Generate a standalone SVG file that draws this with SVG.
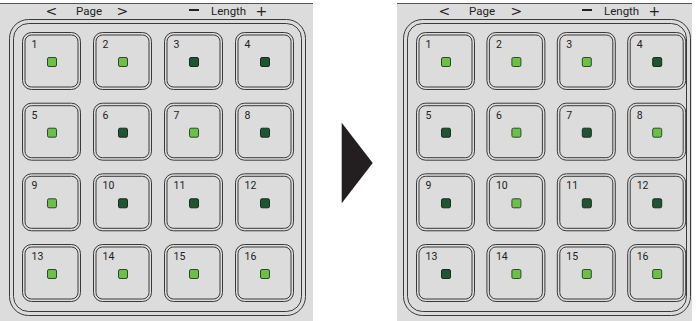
<svg xmlns="http://www.w3.org/2000/svg" xmlns:xlink="http://www.w3.org/1999/xlink" width="696" height="321" viewBox="0 0 696 321">
<style>
.bg{fill:#dcdcdc}
.top{stroke:#555;stroke-width:1}
.ln{fill:none;stroke:#3a3a3a;stroke-width:1}
.on{fill:#6cc04a;stroke:#2e4a26;stroke-width:1}
.off{fill:#1f5632;stroke:#1a2a1f;stroke-width:1}
.num{font-family:Roboto,"Liberation Sans",sans-serif;font-size:10.5px;fill:#222}
.hdr{font-family:Roboto,"Liberation Sans",sans-serif;font-size:11.5px;fill:#222}
.sym{font-family:"DejaVu Sans",sans-serif;font-size:14px;fill:#222}
</style>
<defs>
<g id="btn">
<rect class="ln" x="0.5" y="0.5" width="58" height="57" rx="9"/>
<rect class="ln" x="3" y="3" width="53" height="52" rx="6.5"/>
</g>
</defs>
<rect width="696" height="321" fill="#fff"/>
<g id="panel-before">
<rect class="bg" x="0" y="3" width="313" height="318"/>
<line class="top" x1="0" y1="3.5" x2="313" y2="3.5"/>
<text class="sym" x="45.5" y="16">&lt;</text>
<text class="hdr" x="76" y="14.5">Page</text>
<text class="sym" x="116.5" y="16">&gt;</text>
<rect x="189" y="9" width="10" height="2" fill="#222"/>
<text class="hdr" x="211" y="14.5">Length</text>
<text class="sym" x="255.5" y="16">+</text>
<rect class="ln" x="9.5" y="19.5" width="296" height="296" rx="19"/>
<rect class="ln" x="13.5" y="23.5" width="288" height="288" rx="15"/>
</g>
<g id="L1" transform="translate(22,32)"><use xlink:href="#btn"/><rect class="on" x="25.5" y="25.5" width="9" height="9" rx="1.5"/><text class="num" x="9.5" y="16">1</text></g>
<g id="L2" transform="translate(93,32)"><use xlink:href="#btn"/><rect class="on" x="25.5" y="25.5" width="9" height="9" rx="1.5"/><text class="num" x="9.5" y="16">2</text></g>
<g id="L3" transform="translate(164,32)"><use xlink:href="#btn"/><rect class="off" x="25.5" y="25.5" width="9" height="9" rx="1.5"/><text class="num" x="9.5" y="16">3</text></g>
<g id="L4" transform="translate(235,32)"><use xlink:href="#btn"/><rect class="off" x="25.5" y="25.5" width="9" height="9" rx="1.5"/><text class="num" x="9.5" y="16">4</text></g>
<g id="L5" transform="translate(22,102.7)"><use xlink:href="#btn"/><rect class="on" x="25.5" y="25.5" width="9" height="9" rx="1.5"/><text class="num" x="9.5" y="16">5</text></g>
<g id="L6" transform="translate(93,102.7)"><use xlink:href="#btn"/><rect class="off" x="25.5" y="25.5" width="9" height="9" rx="1.5"/><text class="num" x="9.5" y="16">6</text></g>
<g id="L7" transform="translate(164,102.7)"><use xlink:href="#btn"/><rect class="on" x="25.5" y="25.5" width="9" height="9" rx="1.5"/><text class="num" x="9.5" y="16">7</text></g>
<g id="L8" transform="translate(235,102.7)"><use xlink:href="#btn"/><rect class="off" x="25.5" y="25.5" width="9" height="9" rx="1.5"/><text class="num" x="9.5" y="16">8</text></g>
<g id="L9" transform="translate(22,173.3)"><use xlink:href="#btn"/><rect class="on" x="25.5" y="25.5" width="9" height="9" rx="1.5"/><text class="num" x="9.5" y="16">9</text></g>
<g id="L10" transform="translate(93,173.3)"><use xlink:href="#btn"/><rect class="off" x="25.5" y="25.5" width="9" height="9" rx="1.5"/><text class="num" x="9.5" y="16">10</text></g>
<g id="L11" transform="translate(164,173.3)"><use xlink:href="#btn"/><rect class="off" x="25.5" y="25.5" width="9" height="9" rx="1.5"/><text class="num" x="9.5" y="16">11</text></g>
<g id="L12" transform="translate(235,173.3)"><use xlink:href="#btn"/><rect class="off" x="25.5" y="25.5" width="9" height="9" rx="1.5"/><text class="num" x="9.5" y="16">12</text></g>
<g id="L13" transform="translate(22,244)"><use xlink:href="#btn"/><rect class="on" x="25.5" y="25.5" width="9" height="9" rx="1.5"/><text class="num" x="9.5" y="16">13</text></g>
<g id="L14" transform="translate(93,244)"><use xlink:href="#btn"/><rect class="on" x="25.5" y="25.5" width="9" height="9" rx="1.5"/><text class="num" x="9.5" y="16">14</text></g>
<g id="L15" transform="translate(164,244)"><use xlink:href="#btn"/><rect class="on" x="25.5" y="25.5" width="9" height="9" rx="1.5"/><text class="num" x="9.5" y="16">15</text></g>
<g id="L16" transform="translate(235,244)"><use xlink:href="#btn"/><rect class="on" x="25.5" y="25.5" width="9" height="9" rx="1.5"/><text class="num" x="9.5" y="16">16</text></g>
<g id="connectors">
<polygon points="341.7,122.7 372.7,163 341.7,203.3" fill="#231f20"/>
</g>
<g id="panel-after">
<rect class="bg" x="397" y="3" width="295" height="318"/>
<line class="top" x1="397" y1="3.5" x2="692" y2="3.5"/>
<text class="sym" x="438.5" y="16">&lt;</text>
<text class="hdr" x="469" y="14.5">Page</text>
<text class="sym" x="510.5" y="16">&gt;</text>
<rect x="582" y="9" width="10" height="2" fill="#222"/>
<text class="hdr" x="604" y="14.5">Length</text>
<text class="sym" x="648.5" y="16">+</text>
<rect class="ln" x="403.5" y="19.5" width="287" height="296" rx="19"/>
<rect class="ln" x="407.5" y="23.5" width="279" height="288" rx="15"/>
</g>
<g id="R1" transform="translate(416,32)"><use xlink:href="#btn"/><rect class="on" x="25.5" y="25.5" width="9" height="9" rx="1.5"/><text class="num" x="9.5" y="16">1</text></g>
<g id="R2" transform="translate(486.4,32)"><use xlink:href="#btn"/><rect class="on" x="25.5" y="25.5" width="9" height="9" rx="1.5"/><text class="num" x="9.5" y="16">2</text></g>
<g id="R3" transform="translate(556.8,32)"><use xlink:href="#btn"/><rect class="on" x="25.5" y="25.5" width="9" height="9" rx="1.5"/><text class="num" x="9.5" y="16">3</text></g>
<g id="R4" transform="translate(627.2,32)"><use xlink:href="#btn"/><rect class="off" x="25.5" y="25.5" width="9" height="9" rx="1.5"/><text class="num" x="9.5" y="16">4</text></g>
<g id="R5" transform="translate(416,102.7)"><use xlink:href="#btn"/><rect class="off" x="25.5" y="25.5" width="9" height="9" rx="1.5"/><text class="num" x="9.5" y="16">5</text></g>
<g id="R6" transform="translate(486.4,102.7)"><use xlink:href="#btn"/><rect class="on" x="25.5" y="25.5" width="9" height="9" rx="1.5"/><text class="num" x="9.5" y="16">6</text></g>
<g id="R7" transform="translate(556.8,102.7)"><use xlink:href="#btn"/><rect class="off" x="25.5" y="25.5" width="9" height="9" rx="1.5"/><text class="num" x="9.5" y="16">7</text></g>
<g id="R8" transform="translate(627.2,102.7)"><use xlink:href="#btn"/><rect class="on" x="25.5" y="25.5" width="9" height="9" rx="1.5"/><text class="num" x="9.5" y="16">8</text></g>
<g id="R9" transform="translate(416,173.3)"><use xlink:href="#btn"/><rect class="off" x="25.5" y="25.5" width="9" height="9" rx="1.5"/><text class="num" x="9.5" y="16">9</text></g>
<g id="R10" transform="translate(486.4,173.3)"><use xlink:href="#btn"/><rect class="on" x="25.5" y="25.5" width="9" height="9" rx="1.5"/><text class="num" x="9.5" y="16">10</text></g>
<g id="R11" transform="translate(556.8,173.3)"><use xlink:href="#btn"/><rect class="off" x="25.5" y="25.5" width="9" height="9" rx="1.5"/><text class="num" x="9.5" y="16">11</text></g>
<g id="R12" transform="translate(627.2,173.3)"><use xlink:href="#btn"/><rect class="off" x="25.5" y="25.5" width="9" height="9" rx="1.5"/><text class="num" x="9.5" y="16">12</text></g>
<g id="R13" transform="translate(416,244)"><use xlink:href="#btn"/><rect class="off" x="25.5" y="25.5" width="9" height="9" rx="1.5"/><text class="num" x="9.5" y="16">13</text></g>
<g id="R14" transform="translate(486.4,244)"><use xlink:href="#btn"/><rect class="on" x="25.5" y="25.5" width="9" height="9" rx="1.5"/><text class="num" x="9.5" y="16">14</text></g>
<g id="R15" transform="translate(556.8,244)"><use xlink:href="#btn"/><rect class="on" x="25.5" y="25.5" width="9" height="9" rx="1.5"/><text class="num" x="9.5" y="16">15</text></g>
<g id="R16" transform="translate(627.2,244)"><use xlink:href="#btn"/><rect class="on" x="25.5" y="25.5" width="9" height="9" rx="1.5"/><text class="num" x="9.5" y="16">16</text></g>
</svg>
